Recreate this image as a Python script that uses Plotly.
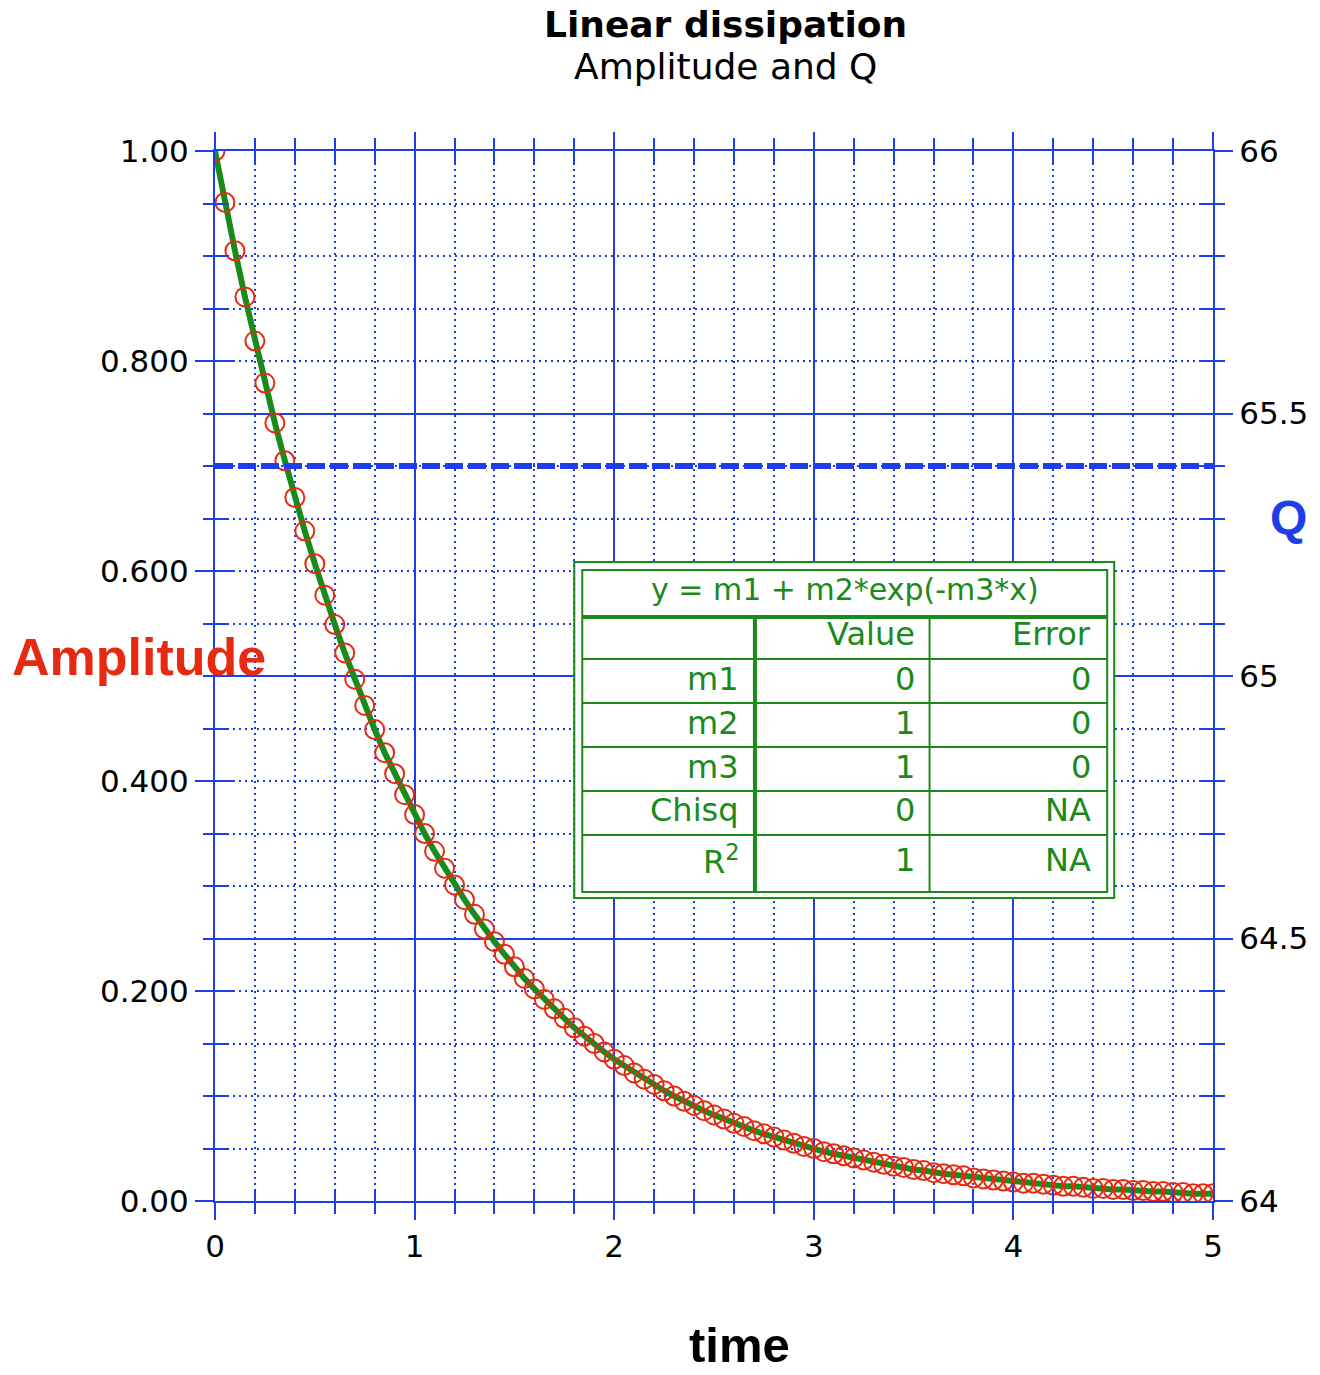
import plotly.graph_objects as go

# ---------------- data ----------------
time = [0.00, 0.05, 0.10, 0.15, 0.20, 0.25, 0.30, 0.35, 0.40, 0.45,
        0.50, 0.55, 0.60, 0.65, 0.70, 0.75, 0.80, 0.85, 0.90, 0.95,
        1.00, 1.05, 1.10, 1.15, 1.20, 1.25, 1.30, 1.35, 1.40, 1.45,
        1.50, 1.55, 1.60, 1.65, 1.70, 1.75, 1.80, 1.85, 1.90, 1.95,
        2.00, 2.05, 2.10, 2.15, 2.20, 2.25, 2.30, 2.35, 2.40, 2.45,
        2.50, 2.55, 2.60, 2.65, 2.70, 2.75, 2.80, 2.85, 2.90, 2.95,
        3.00, 3.05, 3.10, 3.15, 3.20, 3.25, 3.30, 3.35, 3.40, 3.45,
        3.50, 3.55, 3.60, 3.65, 3.70, 3.75, 3.80, 3.85, 3.90, 3.95,
        4.00, 4.05, 4.10, 4.15, 4.20, 4.25, 4.30, 4.35, 4.40, 4.45,
        4.50, 4.55, 4.60, 4.65, 4.70, 4.75, 4.80, 4.85, 4.90, 4.95,
        5.00]

amplitude = [1.000, 0.951, 0.905, 0.861, 0.819, 0.779, 0.741, 0.705, 0.670, 0.638,
             0.607, 0.577, 0.549, 0.522, 0.497, 0.472, 0.449, 0.427, 0.407, 0.387,
             0.368, 0.350, 0.333, 0.317, 0.301, 0.287, 0.273, 0.259, 0.247, 0.235,
             0.223, 0.212, 0.202, 0.192, 0.183, 0.174, 0.165, 0.157, 0.150, 0.142,
             0.135, 0.129, 0.122, 0.116, 0.111, 0.105, 0.100, 0.095, 0.091, 0.086,
             0.082, 0.078, 0.074, 0.071, 0.067, 0.064, 0.061, 0.058, 0.055, 0.052,
             0.050, 0.047, 0.045, 0.043, 0.041, 0.039, 0.037, 0.035, 0.033, 0.032,
             0.030, 0.029, 0.027, 0.026, 0.025, 0.024, 0.022, 0.021, 0.020, 0.019,
             0.018, 0.017, 0.017, 0.016, 0.015, 0.014, 0.014, 0.013, 0.012, 0.012,
             0.011, 0.011, 0.010, 0.010, 0.009, 0.009, 0.008, 0.008, 0.007, 0.007,
             0.007]

# fitted curve y = m1 + m2*exp(-m3*x) coincides with the data
fit_amplitude = amplitude

q_time = [0.0, 5.0]
q_value = [65.4, 65.4]

left_tickvals = [0.0, 0.2, 0.4, 0.6, 0.8, 1.0]
left_ticktext = ["0.00", "0.200", "0.400", "0.600", "0.800", "1.00"]

fit_equation = "y = m1 + m2*exp(-m3*x)"
fit_header = ["Value", "Error"]
fit_params = ["m1", "m2", "m3", "Chisq", "R<sup>2</sup>"]
fit_values = ["0", "1", "1", "0", "1"]
fit_errors = ["0", "0", "0", "NA", "NA"]

# ---------------- styling ----------------
W, H = 1320, 1375
L, R, T, B = 215, 1215, 151, 1201   # plot area in window pixels
BLUE = "#1d3ee8"
RED = "#e62a12"
GREEN = "#1a8a1a"
FONT = "DejaVu Sans, Verdana, sans-serif"
BFONT = "Liberation Sans, Arial, sans-serif"
DOT = "2px,4px"


def px_x(p):
    return (p - L) / (R - L)


def px_y(p):
    return (B - p) / (B - T)


fig = go.Figure()

fig.add_trace(go.Scatter(x=q_time, y=q_value, yaxis="y2", mode="lines",
                         line=dict(color=BLUE, width=6, dash="18px,5px"),
                         showlegend=False, hoverinfo="skip"))
fig.add_trace(go.Scatter(x=time, y=fit_amplitude, mode="lines",
                         line=dict(color=GREEN, width=6),
                         showlegend=False))
fig.add_trace(go.Scatter(x=time, y=amplitude, mode="markers",
                         marker=dict(symbol="circle-open", size=19, color=RED,
                                     line=dict(width=2, color=RED)),
                         showlegend=False))
# empty traces that carry the inside tick marks
fig.add_trace(go.Scatter(x=[None], y=[None], xaxis="x3", yaxis="y3",
                         showlegend=False, hoverinfo="skip"))
fig.add_trace(go.Scatter(x=[None], y=[None], xaxis="x", yaxis="y4",
                         showlegend=False, hoverinfo="skip"))

tickfont = dict(family=FONT, size=31, color="black")

fig.update_layout(
    width=W, height=H,
    margin=dict(l=L, r=W - R, t=T, b=H - B, pad=0),
    paper_bgcolor="white", plot_bgcolor="white",
    showlegend=False,
    xaxis=dict(range=[0, 5], tick0=0, dtick=1, ticks="outside", ticklen=17,
               tickwidth=2, tickcolor=BLUE, showline=True, linecolor=BLUE,
               linewidth=2, mirror="ticks", showgrid=True, gridcolor=BLUE,
               gridwidth=2, zeroline=False, tickfont=tickfont,
               minor=dict(tick0=0, dtick=0.2, ticks="outside", ticklen=11,
                          tickwidth=2, tickcolor=BLUE, showgrid=True,
                          gridcolor=BLUE, gridwidth=2, griddash=DOT)),
    yaxis=dict(range=[0, 1], tickvals=left_tickvals, ticktext=left_ticktext,
               ticks="outside", ticklen=18, tickwidth=2, tickcolor=BLUE,
               showline=True, linecolor=BLUE, linewidth=2, showgrid=True,
               gridcolor=BLUE, gridwidth=2, griddash=DOT, zeroline=False,
               tickfont=tickfont,
               minor=dict(tick0=0, dtick=0.05, ticks="outside", ticklen=10,
                          tickwidth=2, tickcolor=BLUE, showgrid=True,
                          gridcolor=BLUE, gridwidth=2, griddash=DOT)),
    yaxis2=dict(overlaying="y", side="right", anchor="x", range=[64, 66],
                tick0=64, dtick=0.5, ticks="outside", ticklen=18, tickwidth=2,
                tickcolor=BLUE, showline=True, linecolor=BLUE, linewidth=2,
                showgrid=True, gridcolor=BLUE, gridwidth=2, zeroline=False,
                tickfont=tickfont,
                minor=dict(tick0=64, dtick=0.1, ticks="outside", ticklen=10,
                           tickwidth=2, tickcolor=BLUE, showgrid=False)),
    xaxis3=dict(overlaying="x", anchor="y", range=[0, 5], tick0=0, dtick=1,
                ticks="inside", ticklen=18, tickwidth=2, tickcolor=BLUE,
                mirror="ticks", showline=False, showgrid=False, zeroline=False,
                showticklabels=False,
                minor=dict(tick0=0, dtick=0.2, ticks="inside", ticklen=12,
                           tickwidth=2, tickcolor=BLUE, showgrid=False)),
    yaxis3=dict(overlaying="y", side="left", anchor="x", range=[0, 1],
                tickvals=left_tickvals, ticks="inside", ticklen=18, tickwidth=2,
                tickcolor=BLUE, showline=False, showgrid=False, zeroline=False,
                showticklabels=False,
                minor=dict(tick0=0, dtick=0.05, ticks="inside", ticklen=13,
                           tickwidth=2, tickcolor=BLUE, showgrid=False)),
    yaxis4=dict(overlaying="y", side="right", anchor="x", range=[64, 66],
                tick0=64, dtick=0.5, ticks="inside", ticklen=18, tickwidth=2,
                tickcolor=BLUE, showline=False, showgrid=False, zeroline=False,
                showticklabels=False,
                minor=dict(tick0=64, dtick=0.1, ticks="inside", ticklen=13,
                           tickwidth=2, tickcolor=BLUE, showgrid=False)),
)

annotations = [
    dict(text="<b>Linear dissipation</b>", x=px_x(727), y=px_y(25),
         font=dict(family=FONT, size=36, color="black")),
    dict(text="Amplitude and Q", x=px_x(727), y=px_y(66),
         font=dict(family=FONT, size=36, color="black")),
    dict(text="<b>Amplitude</b>", x=px_x(139), y=px_y(657),
         font=dict(family=BFONT, size=52, color=RED)),
    dict(text="<b>Q</b>", x=px_x(1291), y=px_y(517),
         font=dict(family=BFONT, size=48, color=BLUE)),
    dict(text="<b>time</b>", x=px_x(741), y=px_y(1345),
         font=dict(family=BFONT, size=49, color="black")),
]
for a in annotations:
    a.update(xref="paper", yref="paper", xanchor="center", yanchor="middle",
             showarrow=False)

# ---------------- fit results table ----------------
shapes = []
tx0, tx1, ty0, ty1 = 575, 1116, 562, 898   # outer frame (px)
ix0, ix1, iy0, iy1 = 583, 1109, 570, 892   # inner frame (px)
head_y = 617
row_lines = [659, 703, 747, 791, 835]
col1, col2 = 756, 931


def rect(x0, y0, x1, y1, w, fill=None):
    d = dict(type="rect", xref="paper", yref="paper", x0=px_x(x0), x1=px_x(x1),
             y0=px_y(y1), y1=px_y(y0), line=dict(color=GREEN, width=w),
             layer="above")
    if fill:
        d["fillcolor"] = fill
    return d


def hline(yp, w):
    return dict(type="line", xref="paper", yref="paper", x0=px_x(ix0),
                x1=px_x(ix1), y0=px_y(yp), y1=px_y(yp),
                line=dict(color=GREEN, width=w), layer="above")


def vline(xp, w):
    return dict(type="line", xref="paper", yref="paper", x0=px_x(xp),
                x1=px_x(xp), y0=px_y(head_y), y1=px_y(iy1),
                line=dict(color=GREEN, width=w), layer="above")


shapes.append(rect(tx0, ty0, tx1, ty1, 2, fill="white"))
shapes.append(rect(ix0, iy0, ix1, iy1, 2))
shapes.append(hline(head_y, 4))
for yp in row_lines:
    shapes.append(hline(yp, 2))
shapes.append(vline(col1, 4))
shapes.append(vline(col2, 2))

tfont = dict(family=FONT, size=32, color=GREEN)
table_ann = []
table_ann.append(dict(text=fit_equation, x=px_x((ix0 + ix1) / 2), y=px_y(589),
                      xanchor="center", font=dict(family=FONT, size=30, color=GREEN)))
head_cy = 634
table_ann.append(dict(text=fit_header[0], x=px_x(918), y=px_y(head_cy),
                      xanchor="right"))
table_ann.append(dict(text=fit_header[1], x=px_x(1095), y=px_y(head_cy),
                      xanchor="right"))
row_cy = [679, 723, 767, 810, 860]
for name, val, err, cy in zip(fit_params, fit_values, fit_errors, row_cy):
    table_ann.append(dict(text=name, x=px_x(742), y=px_y(cy), xanchor="right"))
    table_ann.append(dict(text=val, x=px_x(918), y=px_y(cy), xanchor="right"))
    table_ann.append(dict(text=err, x=px_x(1095), y=px_y(cy), xanchor="right"))
for a in table_ann:
    a.update(xref="paper", yref="paper", yanchor="middle", showarrow=False)
    a.setdefault("font", tfont)

fig.update_layout(annotations=annotations + table_ann, shapes=shapes)

# remove the default page margin so the figure fills the window exactly
fig.write_html("out.html", config={"displayModeBar": False},
               post_script="document.body.style.margin='0';")
